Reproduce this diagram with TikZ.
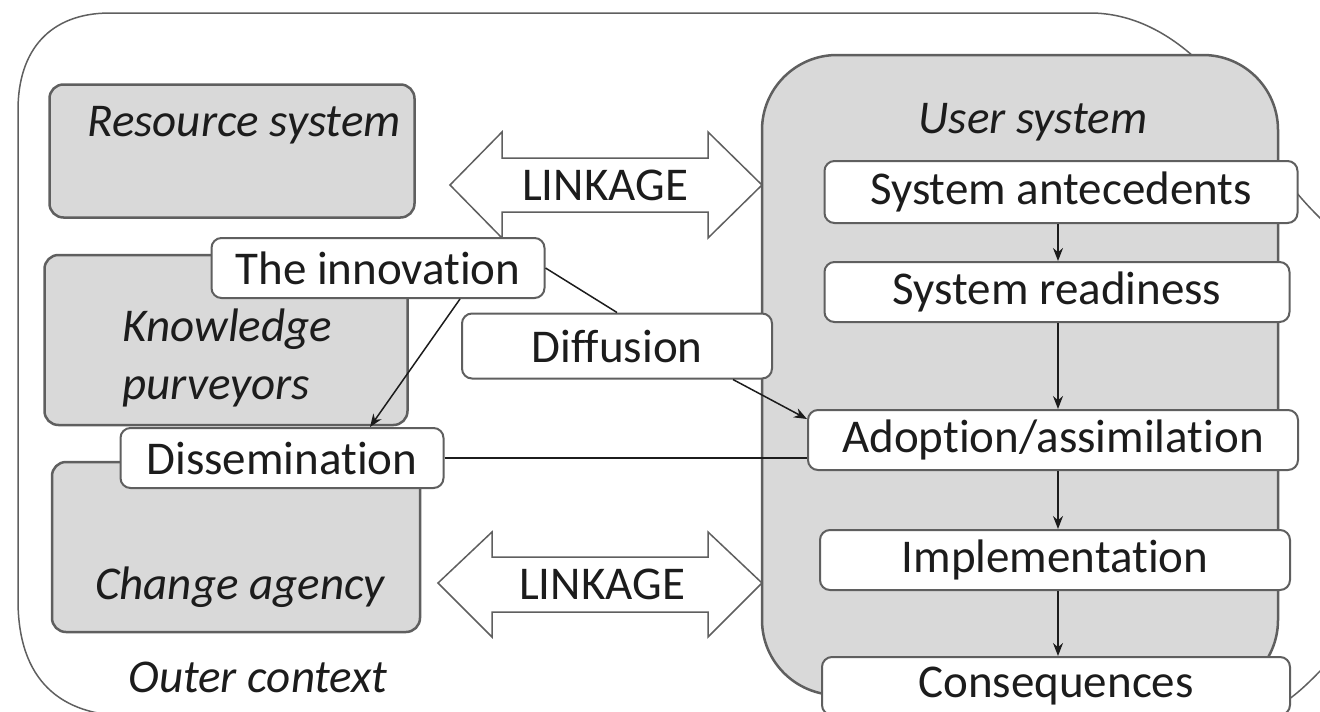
\documentclass[tikz,border=0pt]{standalone}
\usepackage{fontspec}
\setmainfont{Carlito}[Ligatures={NoCommon}]
\usetikzlibrary{arrows.meta,positioning,calc}
\definecolor{boxgrey}{RGB}{217,217,217}
\definecolor{edgegrey}{RGB}{95,95,95}
\definecolor{inkgrey}{RGB}{28,28,28}

\begin{document}
\begin{tikzpicture}[x=1pt,y=-1pt,>={Stealth[length=13pt,width=10pt]},thick,ctx/.style={draw=edgegrey,line width=1.5pt},sysbox/.style={draw=edgegrey,fill=boxgrey,line width=2.5pt,rounded corners=14pt,inner sep=0pt},usrbox/.style={draw=edgegrey,fill=boxgrey,line width=2.5pt,rounded corners=75pt,inner sep=0pt,minimum width=516pt,minimum height=640pt},stage/.style={draw=edgegrey,fill=white,line width=2pt,rounded corners=10pt,inner sep=0pt,minimum height=60pt,text=inkgrey,font=\fontsize{47}{56}\selectfont},itl/.style={inner sep=0pt,text=inkgrey,font=\fontsize{47}{58}\selectfont\itshape,align=left},link/.style={draw=edgegrey,fill=white,line width=1.5pt},linktxt/.style={inner sep=0pt,text=inkgrey,font=\fontsize{47}{56}\selectfont},flow/.style={draw=inkgrey,line width=1.5pt}]

		\useasboundingbox (0,0) rectangle (1320,712);
		\clip (0,0) rectangle (1320,712);

		% outer context
		\draw[ctx] (1350,640) .. controls (1310,680) and (1285,716) .. (1240,716) -- (130,716) .. controls (60,716) and (18,680) .. (18,600) -- (18,110) .. controls (18,50) and (50,13) .. (110,13) -- (1090,13) .. controls (1170,13) and (1225,85) .. (1250,125) .. controls (1272,160) and (1295,200) .. (1345,240);

		\node[sysbox,minimum width=365pt,minimum height=133pt] (res) at (232,151) {};
		\node[sysbox,minimum width=363pt,minimum height=170pt] (kp) at (226,340) {};
		\node[sysbox,minimum width=368pt,minimum height=170pt] (ca) at (236,547) {};
		\node[usrbox] (usr) at (1020,375) {};

		\node[itl] (res-t) at (244,125) {Resource system};
		\node[itl,anchor=west] (kp-t) at (122,358) {Knowledge\\purveyors};
		\node[itl] (ca-t) at (240,587) {Change agency};
		\node[itl] (oc-t) at (258,677) {Outer context};
		\node[itl] (usr-t) at (1033,122) {User system};

		% linkage arrows
		\draw[link] (450,185) -- (502,132) -- (502,158) -- (708,158) -- (708,132) -- (762,185) -- (708,238) -- (708,212) -- (502,212) -- (502,238) -- cycle;
		\draw[link] (438,583) -- (492,532) -- (492,557) -- (708,557) -- (708,532) -- (762,583) -- (708,637) -- (708,612) -- (492,612) -- (492,637) -- cycle;
		\node[linktxt] (lk1) at (605,185) {LINKAGE};
		\node[linktxt] (lk2) at (602,584) {LINKAGE};

		\node[stage,minimum width=333pt] (inn) at (378,268) {The innovation};
		\node[stage,minimum width=310pt,minimum height=65pt] (dif) at (617,346) {Diffusion};
		\node[stage,minimum width=323pt] (dis) at (282,458) {Dissemination};
		\node[stage,minimum width=473pt,minimum height=62pt] (ant) at (1061,192) {System antecedents};
		\node[stage,minimum width=465pt] (rdy) at (1057,292) {System readiness};
		\node[stage,minimum width=490pt] (ado) at (1053,440) {Adoption/assimilation};
		\node[stage,minimum width=470pt] (imp) at (1055,560) {Implementation};
		\node[stage,minimum width=468pt,minimum height=58pt] (con) at (1056,686) {Consequences};

		\coordinate (col) at (1058,0);
		\draw[flow,->] (ant.south -| col) -- (rdy.north -| col);
		\draw[flow,->] (rdy.south -| col) -- (ado.north -| col);
		\draw[flow,->] (ado.south -| col) -- (imp.north -| col);
		\draw[flow,->] (imp.south -| col) -- (con.north -| col);

		\draw[flow] (inn.east) -- (dif.north);
		\draw[flow,->] ([xshift=82pt]inn.south) -- ([xshift=88pt]dis.north);
		\draw[flow,->] ([xshift=-40pt]dif.south east) -- ([yshift=-10pt]ado.north west);
		\draw[flow] (dis.east) -- (dis.east -| ado.west);

		\end{tikzpicture}
\end{document}
